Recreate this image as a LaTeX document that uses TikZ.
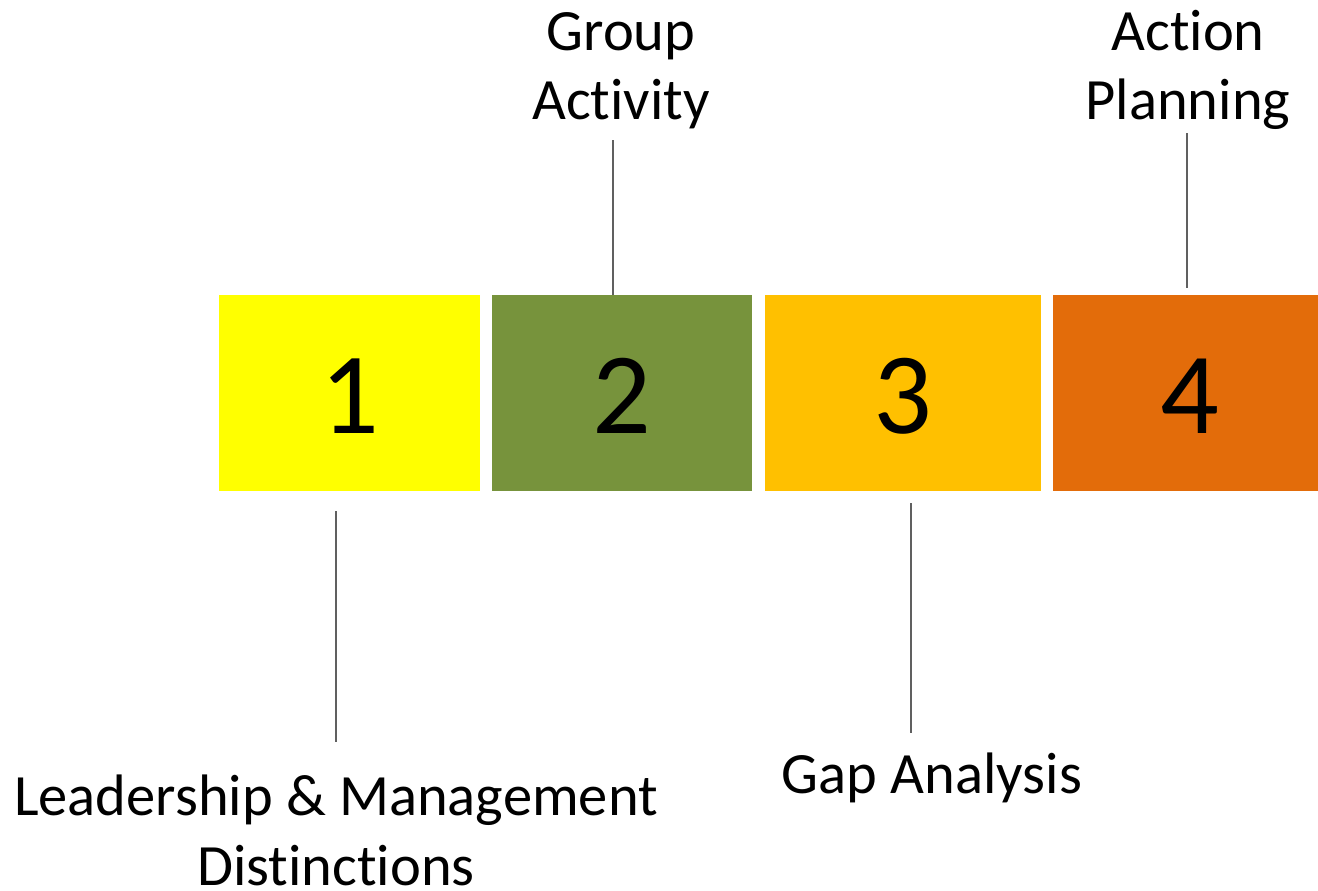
\documentclass[tikz,border=0pt]{standalone}
\usepackage{fontspec}
\setmainfont[Ligatures={NoCommon}]{Carlito}
\definecolor{cyellow}{HTML}{FFFF00}
\definecolor{cgreen}{HTML}{77933C}
\definecolor{camber}{HTML}{FFC000}
\definecolor{corange}{HTML}{E36C0A}
\definecolor{cline}{HTML}{606060}
\begin{document}
\begin{tikzpicture}[x=1pt,y=-1pt,
  stepbox/.style={draw=none,inner sep=0pt,font=\fontsize{116}{116}\selectfont},
  lbl/.style={inner sep=0pt,align=center,font=\fontsize{58.5}{70}\selectfont},
  conn/.style={draw=cline,line width=1.6pt}]
\useasboundingbox (0,0) rectangle (1318,891);
\fill[white] (0,0) rectangle (1318,891);
% boxes
\fill[cyellow] (219,295) rectangle (480,491);
\fill[cgreen] (492,295) rectangle (752,491);
\fill[camber] (765,295) rectangle (1041,491);
\fill[corange] (1053,295) rectangle (1318,491);
\node[stepbox,anchor=base] (b1) at (349.5,433) {1};
\node[stepbox,anchor=base] (b2) at (622,433) {2};
\node[stepbox,anchor=base] (b3) at (903,433) {3};
\node[stepbox,anchor=base] (b4) at (1190,433) {4};
% labels
\node[lbl,anchor=base] (t1) at (336,885) {Leadership \& Management\\Distinctions};
\node[lbl,anchor=base] (t2) at (621,120) {Group\\Activity};
\node[lbl,anchor=base] (t3) at (932,793) {Gap Analysis};
\node[lbl,anchor=base] (t4) at (1188,120) {Action\\Planning};
% connectors
\coordinate (c1a) at (336,511); \coordinate (c1b) at (336,742);
\coordinate (c2a) at (613,140); \coordinate (c2b) at (613,295);
\coordinate (c3a) at (911,503); \coordinate (c3b) at (911,733);
\coordinate (c4a) at (1187,133); \coordinate (c4b) at (1187,288);
\draw[conn] (c1a) -- (c1b);
\draw[conn] (c2a) -- (c2b);
\draw[conn] (c3a) -- (c3b);
\draw[conn] (c4a) -- (c4b);
\end{tikzpicture}
\end{document}
